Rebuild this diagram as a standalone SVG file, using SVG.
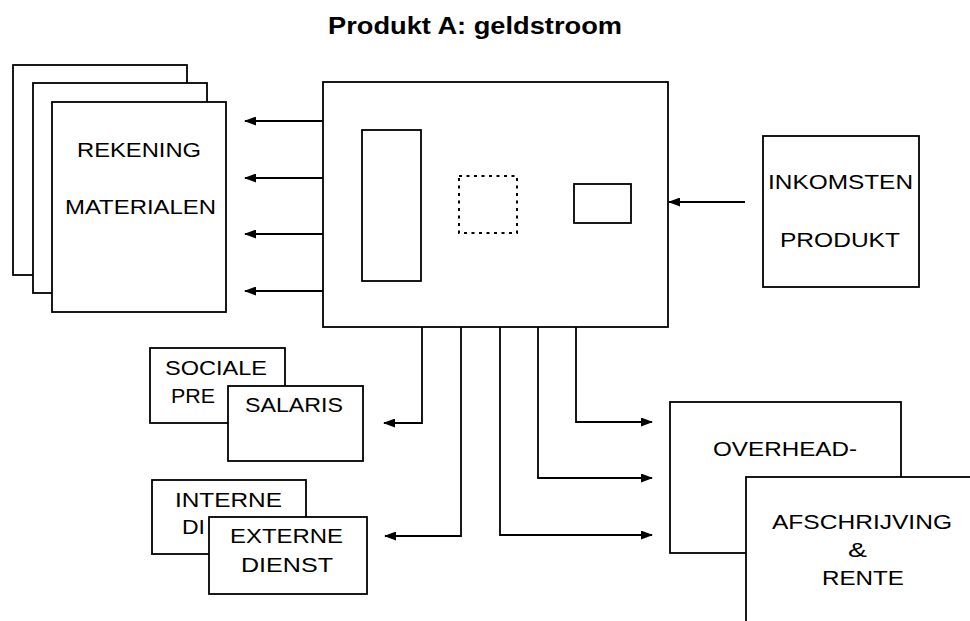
<svg xmlns="http://www.w3.org/2000/svg" width="970" height="621" viewBox="0 0 970 621">
<style>
.box{fill:#fff;stroke:#000;stroke-width:1.8}
.inner{fill:none;stroke:#000;stroke-width:1.8}
.dot{fill:none;stroke:#000;stroke-width:2;stroke-dasharray:3 4.5}
.con{fill:none;stroke:#000;stroke-width:1.8;marker-end:url(#ah)}
text{font-family:"Liberation Sans",Arial,sans-serif;fill:#000;font-size:21px}
.t{font-weight:bold;font-size:23px}
</style>
<defs>
<marker id="ah" viewBox="0 0 12 9" refX="11" refY="4.5" markerWidth="12" markerHeight="9" markerUnits="userSpaceOnUse" orient="auto">
<path d="M0,0 L12,4.5 L0,9 Z" fill="#000"/>
</marker>
</defs>
<rect width="970" height="621" fill="#fff"/>
<text class="t" x="328" y="34" textLength="294" lengthAdjust="spacingAndGlyphs">Produkt A: geldstroom</text>

<g id="rekening">
<rect class="box" x="13" y="65" width="174" height="210"/>
<rect class="box" x="33" y="83" width="174" height="210"/>
<rect class="box" x="52" y="102" width="174" height="210"/>
<text x="77" y="157" textLength="124" lengthAdjust="spacingAndGlyphs">REKENING</text>
<text x="65" y="214" textLength="151" lengthAdjust="spacingAndGlyphs">MATERIALEN</text>
</g>

<g id="main">
<rect class="box" x="323" y="82" width="345" height="245"/>
<rect class="inner" x="362" y="130" width="59" height="151"/>
<rect class="dot" x="459" y="176" width="58" height="57"/>
<rect class="inner" x="574" y="184" width="57" height="39"/>
</g>

<g id="inkomsten">
<rect class="box" x="763" y="136" width="156" height="151"/>
<text x="768" y="189" textLength="145" lengthAdjust="spacingAndGlyphs">INKOMSTEN</text>
<text x="780" y="247" textLength="120" lengthAdjust="spacingAndGlyphs">PRODUKT</text>
</g>

<g id="sociale">
<rect class="box" x="150" y="348" width="135" height="75"/>
<text x="165" y="375" font-size="19" textLength="102" lengthAdjust="spacingAndGlyphs">SOCIALE</text>
<text x="171" y="403" font-size="19" textLength="44" lengthAdjust="spacingAndGlyphs">PRE</text>
</g>
<g id="salaris">
<rect class="box" x="228" y="386" width="135" height="75"/>
<text x="245" y="412" textLength="98" lengthAdjust="spacingAndGlyphs">SALARIS</text>
</g>

<g id="interne">
<rect class="box" x="152" y="480" width="154" height="74"/>
<text x="175" y="507" font-size="20" textLength="107" lengthAdjust="spacingAndGlyphs">INTERNE</text>
<text x="182" y="534" font-size="20" textLength="23" lengthAdjust="spacingAndGlyphs">DI</text>
</g>
<g id="externe">
<rect class="box" x="209" y="517" width="158" height="77"/>
<text x="230" y="543" textLength="113" lengthAdjust="spacingAndGlyphs">EXTERNE</text>
<text x="241" y="572" textLength="92" lengthAdjust="spacingAndGlyphs">DIENST</text>
</g>

<g id="overhead">
<rect class="box" x="670" y="402" width="231" height="151"/>
<text x="713" y="456" textLength="144" lengthAdjust="spacingAndGlyphs">OVERHEAD-</text>
</g>
<g id="afschrijving">
<rect class="box" x="746" y="477" width="250" height="170"/>
<text x="772" y="529" textLength="180" lengthAdjust="spacingAndGlyphs">AFSCHRIJVING</text>
<text x="848" y="557" textLength="19" lengthAdjust="spacingAndGlyphs">&amp;</text>
<text x="822" y="585" textLength="82" lengthAdjust="spacingAndGlyphs">RENTE</text>
</g>

<g id="connectors">
<path class="con" d="M323,121 H245"/>
<path class="con" d="M323,178 H245"/>
<path class="con" d="M323,234 H245"/>
<path class="con" d="M323,291 H245"/>
<path class="con" d="M745,202 H669"/>
<path class="con" d="M422,327 V423 H384"/>
<path class="con" d="M461,327 V536 H385"/>
<path class="con" d="M500,327 V535 H652"/>
<path class="con" d="M538,327 V478 H652"/>
<path class="con" d="M576,327 V422 H652"/>
</g>
</svg>
